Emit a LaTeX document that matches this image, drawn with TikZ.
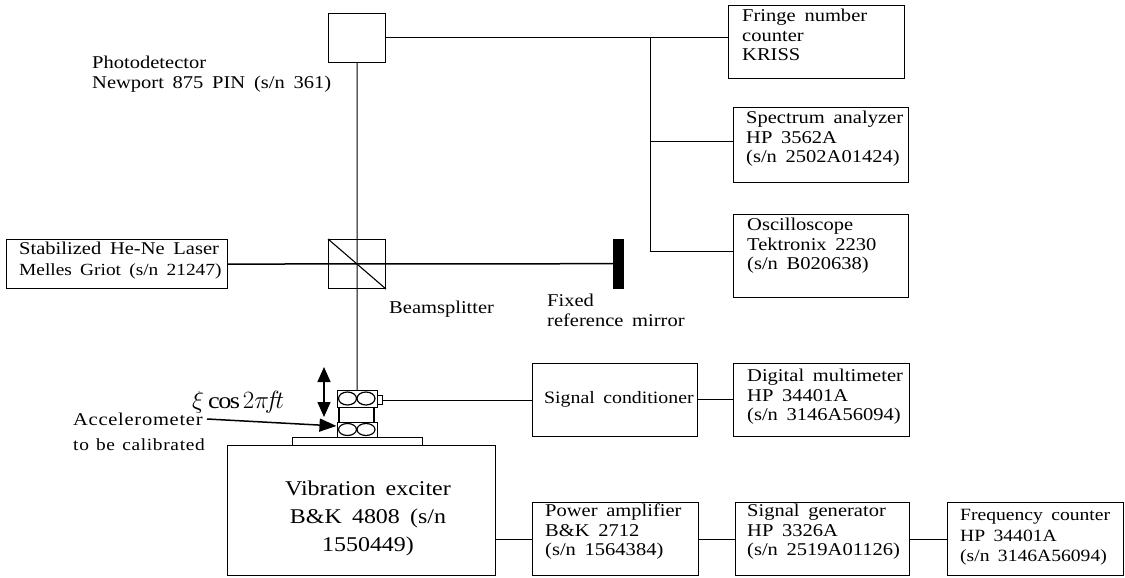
\documentclass[tikz,border=0pt]{standalone}
\usepackage{fontspec}
\setmainfont[FakeStretch=1.14,WordSpace=1.7]{Liberation Serif}
\newfontfamily\lsfont[FakeStretch=1.14,LetterSpace=4,WordSpace=1.3]{Liberation Serif}
\usetikzlibrary{arrows.meta}
\tikzset{
 x=1pt,y=-1pt,
 ibox/.style={draw,line width=1.1pt,inner sep=0pt,anchor=north west},
 lbl/.style={align=left,anchor=north west,inner sep=0pt,font=\fontsize{18}{19.5}\selectfont,execute at begin node={\rule{0pt}{14pt}}},
 wire/.style={line width=1pt},
 beam/.style={line width=1.5pt},
 part/.style={line width=1.3pt},
}
\begin{document}
\begin{tikzpicture}
\useasboundingbox (0,0) rectangle (1125,578);
\node[ibox,minimum width=176pt,minimum height=73pt] (fringe) at (728,5) {};
\node[ibox,minimum width=175pt,minimum height=75pt] (spec) at (733,107) {};
\node[ibox,minimum width=175pt,minimum height=83pt] (osc) at (733,214) {};
\node[ibox,minimum width=57pt,minimum height=49pt] (pd) at (328,13) {};
\node[ibox,minimum width=57pt,minimum height=49pt] (bs) at (328,239) {};
\node[ibox,minimum width=221pt,minimum height=49pt] (laser) at (6,239) {};
\node[draw,fill=black,anchor=north west,inner sep=0pt,minimum width=10pt,minimum height=49pt] (mirror) at (613,239) {};
\node[ibox,minimum width=165pt,minimum height=73pt] (cond) at (532,363) {};
\node[ibox,minimum width=176pt,minimum height=73pt] (dmm) at (733,363) {};
\node[ibox,minimum width=268pt,minimum height=130pt] (exc) at (227,445) {};
\node[ibox,minimum width=130pt,minimum height=8pt] (plate) at (292,437) {};
\node[ibox,minimum width=166pt,minimum height=73pt] (amp) at (532,502) {};
\node[ibox,minimum width=174pt,minimum height=73pt] (gen) at (735,502) {};
\node[ibox,minimum width=176pt,minimum height=73pt] (freq) at (947,502) {};
% accelerometer
\node[ibox,part,minimum width=40pt,minimum height=17pt] (acctop) at (336.5,390) {};
\node[ibox,part,minimum width=40pt,minimum height=15pt] (accbot) at (336.5,422) {};
\node[ibox,minimum width=5pt,minimum height=9pt] (conn) at (376.5,395) {};
\draw[part] (339,407) -- (339,422) (374,407) -- (374,422);
\foreach \cx/\cy/\ry in {347.5/398.5/6.5,366/398.5/6.5,347.5/429.5/6,366/429.5/6}
  \draw[line width=1.2pt] (\cx,\cy) ellipse (9pt and \ry pt);
% beams
\draw[wire] (pd.south) -- (acctop.north);
\draw[beam] (laser.east) -- (mirror.west);
\draw[line width=1.1pt] (bs.north west) -- (bs.south east);
% wires
\coordinate (j1) at (650,38);
\coordinate (j2) at (650,141);
\coordinate (j3) at (650,251);
\coordinate (r1) at (0,399.5);
\coordinate (r2) at (0,539);
\draw[wire] (pd.east |- j1) -- (fringe.west |- j1);
\draw[wire] (j1) -- (j3);
\draw[wire] (j2) -- (spec.west |- j2);
\draw[wire] (j3) -- (osc.west |- j3);
\draw[wire] (conn.east) -- (cond.west |- conn.east);
\draw[wire] (cond.east |- r1) -- (dmm.west |- r1);
\draw[wire] (exc.east |- r2) -- (amp.west |- r2);
\draw[wire] (amp.east |- r2) -- (gen.west |- r2);
\draw[wire] (gen.east |- r2) -- (freq.west |- r2);
% arrows
\coordinate (ua) at (324,367);
\coordinate (ub) at (324,417);
\draw[line width=1.6pt,{Triangle[length=15pt,width=13pt]}-{Triangle[length=15pt,width=13pt]}] (ua) -- (ub);
\coordinate (acctail) at (207,419);
\coordinate (acctip) at (336.5,426);
\draw[line width=1.5pt,-{Triangle[length=17pt,width=13pt]}] (acctail) -- (acctip);
% text
\node[lbl] (t1) at (742,9) {Fringe number\\counter\\KRISS};
\node[lbl] (t2) at (746,111) {Spectrum analyzer\\HP 3562A\\(s/n 2502A01424)};
\node[lbl] (t3) at (747,218) {Oscilloscope\\Tektronix 2230\\(s/n B020638)};
\node[lbl] (t4) at (92,56) {Photodetector\\Newport 875 PIN (s/n 361)};
\node[lbl] (t5) at (19,242) {Stabilized He-Ne Laser\\[1.5pt]\fontsize{17}{19.5}\selectfont Melles Griot (s/n 21247)};
\node[lbl] (t6) at (389,299) {Beamsplitter};
\node[lbl] (t7) at (547,294) {Fixed\\reference mirror};
\node[lbl,font=\fontsize{17.4}{19.5}\selectfont] (t8) at (544,389) {Signal conditioner};
\node[lbl] (t9) at (747,369) {Digital multimeter\\HP 34401A\\(s/n 3146A56094)};
\node[lbl,font=\fontsize{18}{19.5}\lsfont] (t10) at (73,413) {Accelerometer\\[5.5pt]\fontsize{17}{19.5}\selectfont to be calibrated};
\node[lbl,font=\fontsize{21}{28}\selectfont,align=center,anchor=north,execute at begin node={\rule{0pt}{16pt}}] (t11) at (368,481) {Vibration exciter\\B\&K 4808 (s/n\\1550449)};
\node[lbl] (t12) at (545,504) {Power amplifier\\B\&K 2712\\(s/n 1564384)};
\node[lbl] (t13) at (747,504) {Signal generator\\HP 3326A\\(s/n 2519A01126)};
\node[lbl,font=\fontsize{17.2}{19.5}\selectfont] (t14) at (960,509) {Frequency counter\\[1.5pt]HP 34401A\\[1pt](s/n 3146A56094)};
\node[lbl,font=\fontsize{23}{23}\selectfont] (t15) at (192,391) {$\xi\cos 2\pi\! f\!t$};
\end{tikzpicture}
\end{document}
